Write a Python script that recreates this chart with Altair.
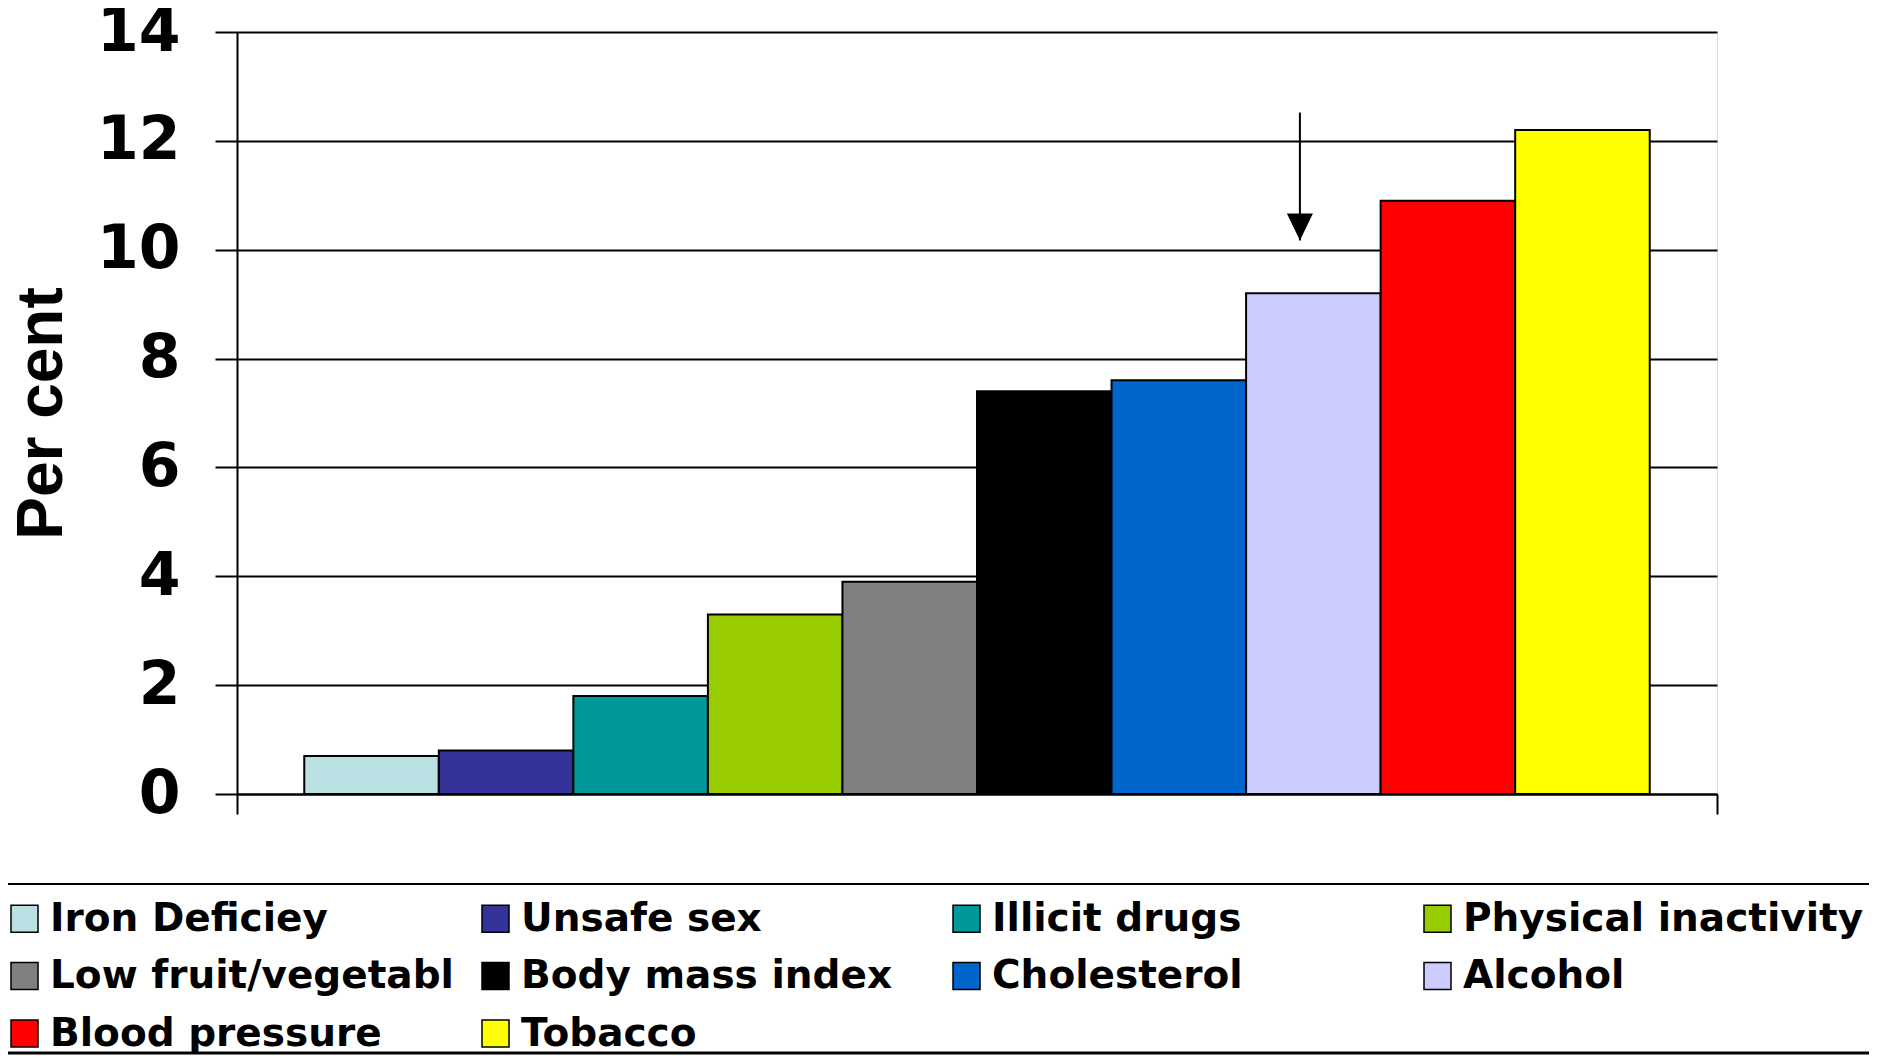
import altair as alt
import pandas as pd

# ---- data ----
categories = ["Iron Deficiey", "Unsafe sex", "Illicit drugs", "Physical inactivity",
              "Low fruit/vegetabl", "Body mass index", "Cholesterol", "Alcohol",
              "Blood pressure", "Tobacco"]
values = [0.7, 0.8, 1.8, 3.3, 3.9, 7.4, 7.6, 9.2, 10.9, 12.2]
colors = ["#BBE0E3", "#333399", "#009999", "#99CC00", "#808080", "#000000",
          "#0066CC", "#CCCCFF", "#FF0000", "#FFFF00"]
y_ticks = [0, 2, 4, 6, 8, 10, 12, 14]

arrow_target = ["Alcohol"]
arrow_start = [12.52]
arrow_end = [10.17]

axis_edges = [0, 1]

W, H = 1480, 762

df = pd.DataFrame({"risk": categories, "value": values})
arrow_df = pd.DataFrame({"risk": arrow_target, "start": arrow_start, "end": arrow_end})
edge_df = pd.DataFrame({"edge": axis_edges})
frame_df = pd.DataFrame({"k": [0]})

xscale = alt.Scale(type="band", domain=categories, paddingInner=0, paddingOuter=0.5)
yscale = alt.Scale(domain=[0, 14], nice=False, zero=True)
color_scale = alt.Scale(domain=categories, range=colors)

bars = alt.Chart(df).mark_bar(stroke="black", strokeWidth=2).encode(
    x=alt.X("risk:N", scale=xscale, sort=categories, axis=None),
    y=alt.Y("value:Q", scale=yscale,
            axis=alt.Axis(values=y_ticks, title="Per cent", format="d",
                          grid=True, gridColor="black", gridWidth=2,
                          domain=True, domainColor="black", domainWidth=2,
                          ticks=True, tickSize=22, tickColor="black", tickWidth=2,
                          labelFont="DejaVu Sans", labelFontWeight="bold",
                          labelFontSize=60, labelColor="black", labelPadding=35,
                          labelOverlap=False,
                          titleFont="Liberation Sans", titleFontWeight="bold",
                          titleFontSize=64, titleColor="black", titleAngle=270,
                          titleX=-176, titleY=381, titleAlign="center",
                          titleBaseline="alphabetic")),
    color=alt.Color("risk:N", scale=color_scale, sort=categories,
                    legend=alt.Legend(title=None, orient="none",
                                      direction="horizontal",
                                      legendX=-232, legendY=867,
                                      columns=4, gridAlign="all",
                                      columnPadding=22, rowPadding=17.5,
                                      symbolType="square", symbolSize=729,
                                      symbolStrokeColor="black",
                                      symbolStrokeWidth=1.5, symbolOpacity=1,
                                      labelFont="DejaVu Sans", labelFontWeight="bold",
                                      labelFontSize=39, labelColor="black",
                                      labelLimit=800, labelOffset=6, padding=0)),
)

arrow_line = alt.Chart(arrow_df).mark_rule(color="black", strokeWidth=2).encode(
    x=alt.X("risk:N", scale=xscale, bandPosition=0.4, axis=None),
    y=alt.Y("start:Q", scale=yscale),
    y2="end:Q",
)

arrow_head = alt.Chart(arrow_df).mark_point(
    shape="M-1,-1.04L1,-1.04L0,1.04Z", size=676, filled=True,
    color="black", opacity=1, yOffset=-13.5
).encode(
    x=alt.X("risk:N", scale=xscale, bandPosition=0.4, axis=None),
    y=alt.Y("end:Q", scale=yscale),
)

edge_axis = alt.Chart(edge_df).mark_point(opacity=0).encode(
    x=alt.X("edge:Q", scale=alt.Scale(domain=[0, 1], nice=False, zero=False),
            axis=alt.Axis(orient="bottom", values=axis_edges, tickSize=20,
                          tickWidth=2, tickColor="black", labels=False,
                          domain=True, domainColor="black", domainWidth=2,
                          grid=False, title=None)),
)

top_line = alt.Chart(frame_df).mark_rule(color="black", strokeWidth=2).encode(
    x=alt.value(-240), x2=alt.value(W + 160), y=alt.value(852))
bottom_line = alt.Chart(frame_df).mark_rule(color="black", strokeWidth=3).encode(
    x=alt.value(-240), x2=alt.value(W + 160), y=alt.value(1021))

chart = alt.layer(
    bars, arrow_line, arrow_head, edge_axis, top_line, bottom_line
).resolve_scale(x="independent").properties(
    width=W, height=H,
    autosize=alt.AutoSizeParams(type="none"),
    padding={"left": 229, "top": 24, "right": 152, "bottom": 261},
).configure_view(stroke=None).configure(background="white")

chart.save("out.html", embed_options={"renderer": "svg", "actions": False})
